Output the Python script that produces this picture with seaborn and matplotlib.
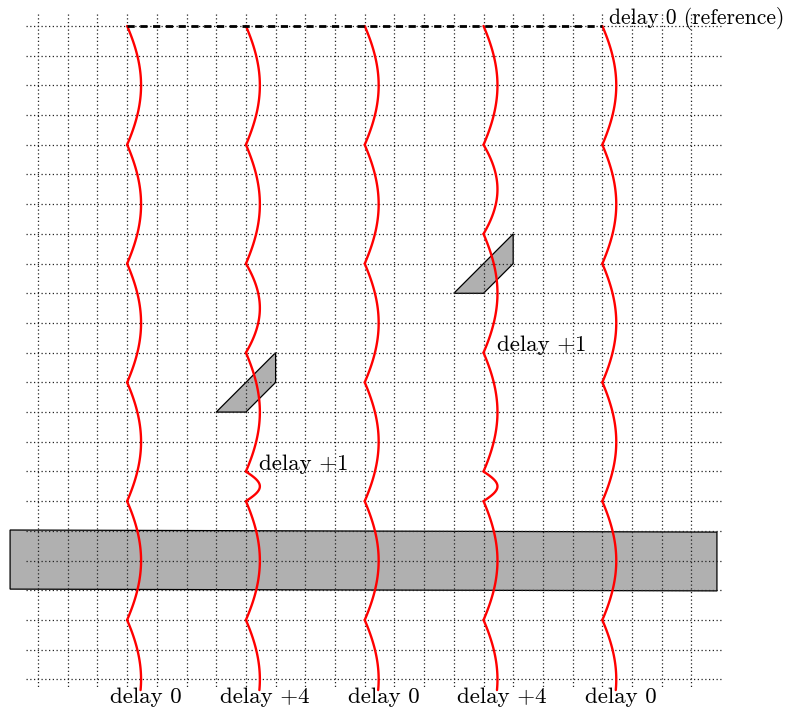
import numpy as np
import pandas as pd
import matplotlib
matplotlib.use("Agg")
import matplotlib.pyplot as plt
from matplotlib.patches import Polygon
import seaborn as sns

# ---- data (grid units: column index, row index downward) ----
wave_columns = [3, 7, 11, 15, 19]
kink_rows = [
    [0, 4, 8, 12, 16, 20],
    [0, 4, 8, 11, 15, 16, 20],
    [0, 4, 8, 12, 16, 20],
    [0, 4, 7, 11, 15, 16, 20],
    [0, 4, 8, 12, 16, 20],
]
bottom_labels = ["delay 0", "delay +4", "delay 0", "delay +4", "delay 0"]
mid_label_cols = [7, 15]
mid_label_rows = [15, 11]
mid_labels = ["delay +1", "delay +1"]
top_label = "delay 0 (reference)"
prism_1 = [(6, 13), (7, 13), (8, 12), (8, 11)]
prism_2 = [(14, 9), (15, 9), (16, 8), (16, 7)]
slab = [(-0.94, 16.97), (22.86, 17.04), (22.86, 19.02), (-0.94, 18.96)]
grid_cols = list(range(0, 23))
grid_rows = list(range(0, 23))

# ---- layout ----
W, H = 786, 711
X0, Y0, U = 38.0, 26.0, 29.7
SAG = 0.47
END_ROW = 22.36

sns.set_theme(style="white")
plt.rcParams["font.family"] = ["cmr10", "DejaVu Serif"]

fig = plt.figure(figsize=(W / 100, H / 100), dpi=100)
ax = fig.add_axes([0, 0, 1, 1])


def bulge(c, r0, r1, rstop=None, n=80):
    L = r1 - r0
    rend = r1 if rstop is None else rstop
    rr = np.linspace(r0, rend, n)
    t = (rr - r0) / L
    R = (L * L / 4 + SAG * SAG) / (2 * SAG)
    rm = (r0 + r1) / 2
    circ = SAG - R + np.sqrt(np.maximum(R * R - (rr - rm) ** 2, 0))
    sine = SAG * np.sin(np.pi * t)
    w = 0.5 if L >= 3 else 0.0
    xx = c + w * circ + (1 - w) * sine
    return xx, rr


rows = []
seg = 0
for c, ks in zip(wave_columns, kink_rows):
    for a, b in zip(ks[:-1], ks[1:]):
        xx, rr = bulge(c, a, b)
        rows += [(x, y, seg) for x, y in zip(xx, rr)]
        seg += 1
    xx, rr = bulge(c, ks[-1], ks[-1] + 4, rstop=END_ROW)
    rows += [(x, y, seg) for x, y in zip(xx, rr)]
    seg += 1
df = pd.DataFrame(rows, columns=["x", "y", "seg"])

# gray shapes
for pts in [slab, prism_1, prism_2]:
    ax.add_patch(Polygon(pts, closed=True, facecolor="#b0b0b0",
                         edgecolor="black", lw=0.9, zorder=1))

# dotted grid
ax.vlines(grid_cols, -0.42, 22.3, colors="#222222", linestyles=(0, (1, 2)),
          lw=0.9, zorder=2)
ax.hlines(grid_rows, -0.4, 23.0, colors="#222222", linestyles=(0, (1, 2)),
          lw=0.9, zorder=2)

# wave fronts
sns.lineplot(data=df, x="x", y="y", units="seg", estimator=None, sort=False,
             color="red", lw=1.7, ax=ax, legend=False, zorder=3)

# reference dashed line
ax.plot([wave_columns[0], wave_columns[-1]], [0, 0], color="black", lw=2,
        dashes=(2.6, 2.0), zorder=4)

fs = 16.5
ax.text(wave_columns[-1] + 0.24, -0.07, top_label, fontsize=15.5,
        color="black", ha="left", va="baseline", zorder=5)
for c, r, t in zip(mid_label_cols, mid_label_rows, mid_labels):
    ax.text(c + 0.44, r - 0.05, t, fontsize=fs, color="black",
            ha="left", va="baseline", zorder=5)
for c, t in zip(wave_columns, bottom_labels):
    ax.text(c + 0.63, 22.8, t, fontsize=fs, color="black",
            ha="center", va="baseline", zorder=5)

ax.set_xlim(-X0 / U, (W - X0) / U)
ax.set_ylim((H - Y0) / U, -Y0 / U)
ax.axis("off")

fig.savefig("out.png", dpi=100)
